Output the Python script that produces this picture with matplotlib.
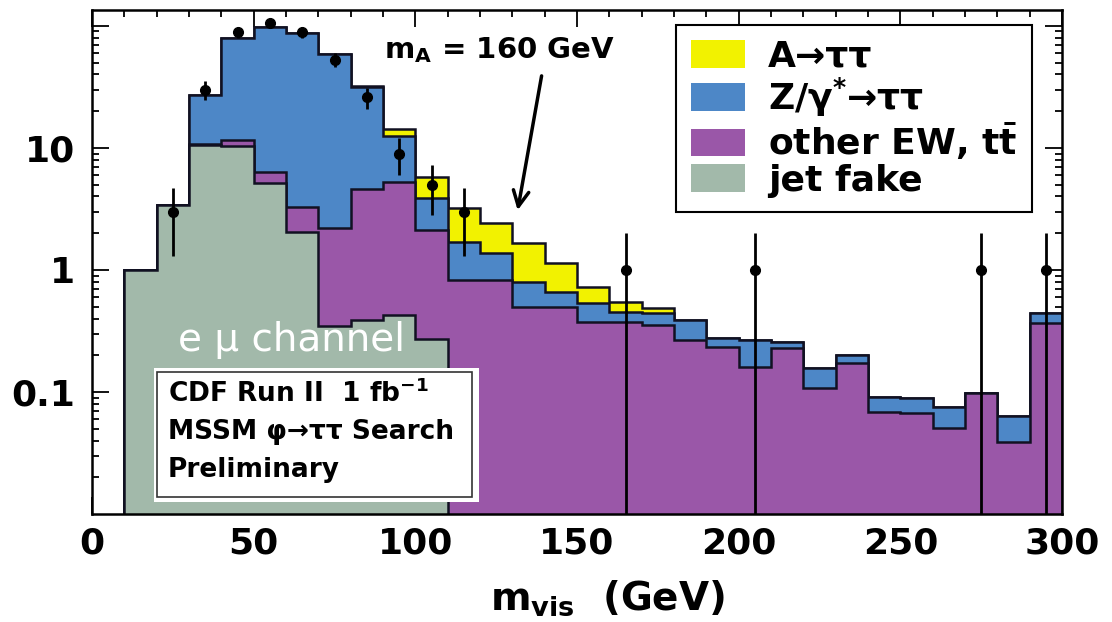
import numpy as np
import matplotlib
matplotlib.use("Agg")
import matplotlib.pyplot as plt
from matplotlib.patches import Patch, Rectangle
from matplotlib.ticker import MultipleLocator, LogLocator, FixedLocator, FixedFormatter, NullFormatter

plt.rcParams['font.family'] = ['DejaVu Sans']
plt.rcParams['font.weight'] = 'bold'
plt.rcParams['mathtext.fontset'] = 'dejavusans'
plt.rcParams['mathtext.default'] = 'bf'

###### DATA ######
# 10 GeV bins from 10 to 300 GeV
bin_edges = list(range(10, 310, 10))

jet_fake = [1.0, 3.41, 10.6, 10.4, 5.17, 2.05, 0.35, 0.39, 0.43, 0.27,
            0, 0, 0, 0, 0, 0, 0, 0, 0, 0, 0, 0, 0, 0, 0, 0, 0, 0, 0]
other_ew = [0, 0, 0.1, 1.2, 1.18, 1.23, 1.86, 4.21, 4.84, 1.86,
            0.83, 0.83, 0.50, 0.50, 0.375, 0.375, 0.354, 0.267, 0.234, 0.160,
            0.229, 0.108, 0.173, 0.068, 0.0675, 0.051, 0.098, 0.039, 0.367]
z_tautau = [0, 0, 16.4, 68.2, 91.6, 84.4, 56.7, 27.0, 7.23, 1.76,
            0.87, 0.55, 0.30, 0.16, 0.165, 0.075, 0.09, 0.122, 0.043, 0.107,
            0.028, 0.049, 0.028, 0.023, 0.022, 0.0245, 0, 0.0246, 0.077]
a_tautau = [0, 0, 0, 0, 0, 0, 0, 0.5, 1.8, 1.89,
            1.52, 1.05, 0.86, 0.48, 0.19, 0.097, 0.044, 0, 0, 0,
            0, 0, 0, 0, 0, 0, 0, 0, 0]

data_x = [25, 35, 45, 55, 65, 75, 85, 95, 105, 115, 165, 205, 275, 295]
data_n = [3, 30, 89, 106, 89, 53, 26, 9, 5, 3, 1, 1, 1, 1]
data_err_lo = [1.7, 5.5, 9.4, 10.3, 9.4, 7.3, 5.1, 3.0, 2.2, 1.7, 0.999, 0.999, 0.999, 0.999]
data_err_hi = [1.7, 5.5, 9.4, 10.3, 9.4, 7.3, 5.1, 3.0, 2.2, 1.7, 1.0, 1.0, 1.0, 1.0]

labels = ["A\u2192\u03c4\u03c4", "Z/$\\gamma^{*}$\u2192\u03c4\u03c4",
          "other EW, $t\\bar{t}$", "jet fake"]
colors = ["#f2f200", "#4d87c7", "#9a57a8", "#a2b9aa"]

###### PLOT ######
fig = plt.figure(figsize=(11.12, 6.22), dpi=100)
ax = fig.add_axes([92/1112, 1 - 514/622, 970/1112, 504/622])

c1 = np.array(jet_fake)
c2 = c1 + np.array(other_ew)
c3 = c2 + np.array(z_tautau)
c4 = c3 + np.array(a_tautau)
stack = [c4, c3, c2, c1]

for vals, col in zip(stack, colors):
    ax.stairs(np.clip(vals, 1e-4, None), bin_edges, baseline=1e-4, fill=True,
              facecolor=col, edgecolor='#111122', linewidth=1.8, zorder=2)

ax.errorbar(data_x, data_n, yerr=[data_err_lo, data_err_hi], fmt='o', color='black',
            markersize=7, elinewidth=2.0, capsize=0, zorder=4)

ax.set_yscale('log')
ax.set_xlim(0, 300)
ax.set_ylim(0.01, 135)

ax.xaxis.set_major_locator(MultipleLocator(50))
ax.xaxis.set_minor_locator(MultipleLocator(10))
ax.yaxis.set_major_locator(FixedLocator([0.1, 1, 10, 100]))
ax.yaxis.set_major_formatter(FixedFormatter(['0.1', '1', '10', '']))
ax.yaxis.set_minor_locator(LogLocator(base=10, subs=np.arange(2, 10)))
ax.yaxis.set_minor_formatter(NullFormatter())

ax.tick_params(which='both', direction='in', top=True, right=True, width=1.3)
ax.tick_params(which='major', length=12, labelsize=26)
ax.tick_params(which='minor', length=5)
ax.tick_params(axis='x', pad=9)
ax.tick_params(axis='y', pad=12)
for s in ax.spines.values():
    s.set_linewidth(1.8)

fig.text(607/1112, 1 - 598/622, "$m_{vis}$  (GeV)", fontsize=28, ha='center', va='center')

# signal annotation
ax.text(0.4196, 0.921, "$m_{A}$ = 160 GeV", transform=ax.transAxes, fontsize=21,
        ha='center', va='center')
ax.annotate('', xy=(131.5, 2.93), xytext=(139.2, 41),
            arrowprops=dict(arrowstyle='->', lw=2.5, color='black', mutation_scale=28))

# legend
handles = [Patch(facecolor=c, edgecolor='none') for c in colors]
leg = ax.legend(handles, labels, loc='upper right', bbox_to_anchor=(0.969, 0.970),
                borderaxespad=0, fontsize=26, frameon=True, fancybox=False,
                handlelength=1.5, handleheight=0.8, handletextpad=0.65,
                labelspacing=0.05, borderpad=0.4)
leg.get_frame().set_edgecolor('black')
leg.get_frame().set_linewidth(1.5)
leg.get_frame().set_alpha(1)
leg.set_zorder(6)

# channel text and CDF box
ax.text(0.206, 0.345, "e \u03bc channel", transform=ax.transAxes, fontsize=28,
        fontweight='normal', color='white', ha='center', va='center', zorder=6)
ax.add_patch(Rectangle((0.0639, 0.0238), 0.335, 0.266, transform=ax.transAxes,
                       facecolor='white', edgecolor='none', zorder=5))
ax.add_patch(Rectangle((0.067, 0.0337), 0.325, 0.248, transform=ax.transAxes,
                       facecolor='none', edgecolor='#333333', linewidth=1.2, zorder=6))
box_lines = ["CDF Run II  1 fb$^{-1}$", "MSSM \u03c6\u2192\u03c4\u03c4 Search", "Preliminary"]
for txt, yy in zip(box_lines, [0.238, 0.163, 0.0873]):
    ax.text(0.0784, yy, txt, transform=ax.transAxes, fontsize=19,
            ha='left', va='center', zorder=7)

fig.savefig("out.png", dpi=100)
